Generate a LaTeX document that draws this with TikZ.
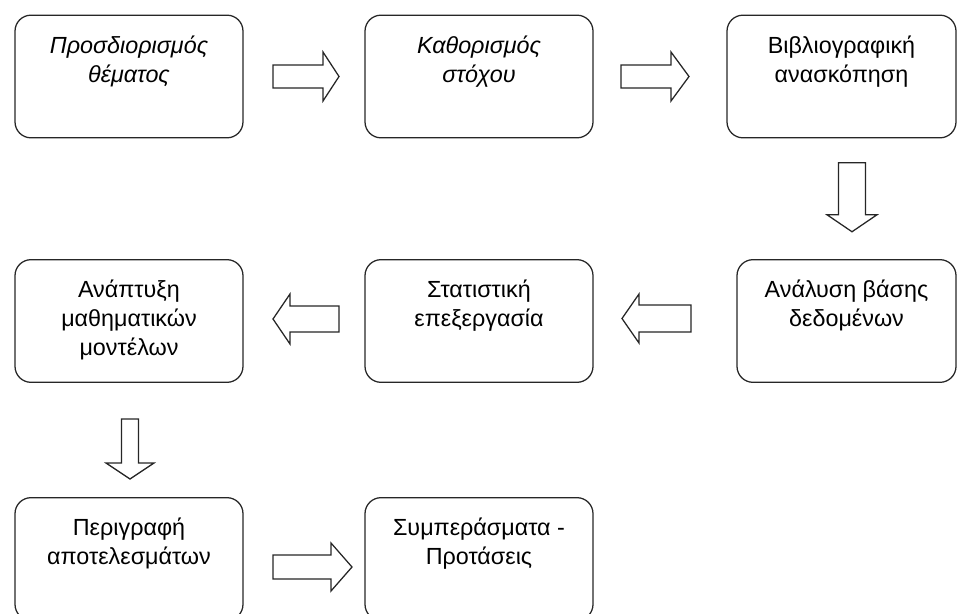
\documentclass[tikz,border=0pt]{standalone}
\usepackage{fontspec}
\setmainfont{Liberation Sans}
\usetikzlibrary{calc}
\tikzset{
  x=0.75pt, y=-0.75pt,
  stage/.style={draw=black!85, line width=0.95pt, rounded corners=12pt,
    inner sep=0pt, minimum width=#1*0.75pt, minimum height=92pt,
    font=\fontsize{17.5}{21.75}\selectfont},
  blk/.style={draw=black!85, line width=0.95pt, fill=white},
  pics/barrow/.style n args={4}{code={
    \draw[blk] (-#1/2,-#2/2) -- (#1/2-#4,-#2/2) -- (#1/2-#4,-#3/2) -- (#1/2,0)
      -- (#1/2-#4,#3/2) -- (#1/2-#4,#2/2) -- (-#1/2,#2/2) -- cycle;
  }}
}
\newcommand\stagetext[2]{\parbox[c][92pt][t]{#1}{\centering\vspace*{13.3pt}#2}}
\begin{document}
\begin{tikzpicture}
\useasboundingbox (0,0) rectangle (957,614);
% row 1
\node[stage=228] (b1) at (129,76.5) {\stagetext{171pt}{\itshape\strut Προσδιορισμός\\θέματος}};
\node[stage=228] (b2) at (479,76.5) {\stagetext{171pt}{\itshape\strut Καθορισμός\\στόχου}};
\node[stage=229] (b3) at (841.5,76.5) {\stagetext{171pt}{\strut Βιβλιογραφική\\ανασκόπηση}};
% row 2
\node[stage=219] (b6) at (846.5,321) {\stagetext{164pt}{\strut Ανάλυση βάσης\\δεδομένων}};
\node[stage=228] (b5) at (479,321) {\stagetext{171pt}{\strut Στατιστική\\επεξεργασία}};
\node[stage=228] (b4) at (129,321) {\stagetext{171pt}{\strut Ανάπτυξη\\μαθηματικών\\μοντέλων}};
% row 3
\node[stage=228] (b7) at (129,559) {\stagetext{171pt}{\strut Περιγραφή\\αποτελεσμάτων}};
\node[stage=228] (b8) at (479,559) {\stagetext{171pt}{\strut Συμπεράσματα -\\Προτάσεις}};
% block arrows
\pic at ($(b1.east)!0.5!(b2.west)+(2,0)$) {barrow={66}{23}{49}{16}};
\pic at ($(b2.east)!0.5!(b3.west)+(-5,0)$) {barrow={68}{23}{49}{18}};
\pic[rotate=-90] at ($(b3.south)!0.5!(b6.north)+(8,-1.5)$) {barrow={69}{27}{50}{17}};
\pic[rotate=180] at ($(b6.west)!0.5!(b5.east)+(-8.5,-2.5)$) {barrow={69}{27}{49}{17}};
\pic[rotate=180] at ($(b5.west)!0.5!(b4.east)+(2,-2)$) {barrow={66}{26}{50}{17}};
\pic[rotate=-90] at ($(b4.south)!0.5!(b7.north)+(1,9)$) {barrow={60}{17}{48}{16}};
\pic at ($(b7.east)!0.5!(b8.west)+(8.5,8)$) {barrow={79}{24}{48}{21}};
\end{tikzpicture}
\end{document}
